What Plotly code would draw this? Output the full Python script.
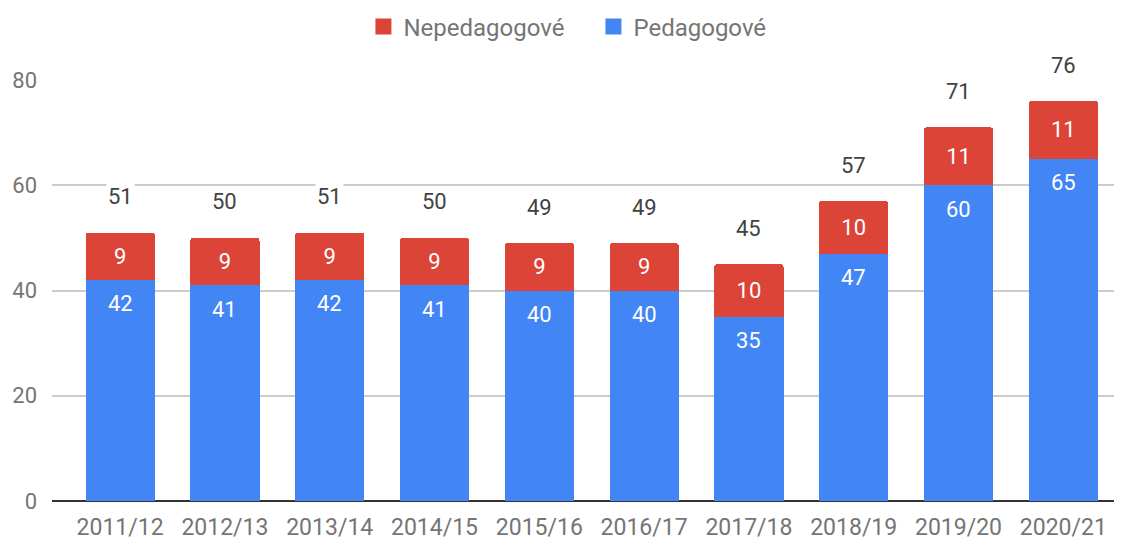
import plotly.graph_objects as go

years = ["2011/12", "2012/13", "2013/14", "2014/15", "2015/16",
         "2016/17", "2017/18", "2018/19", "2019/20", "2020/21"]
pedagogove = [42, 41, 42, 41, 40, 40, 35, 47, 60, 65]
nepedagogove = [9, 9, 9, 9, 9, 9, 10, 10, 11, 11]
totals = [p + n for p, n in zip(pedagogove, nepedagogove)]

font = "Roboto, Arial, sans-serif"
blue = "#4285F4"
red = "#DB4437"

fig = go.Figure()

fig.add_trace(go.Bar(
    x=years,
    y=pedagogove,
    name="Pedagogové",
    showlegend=False,
    marker=dict(color=blue, line=dict(width=0)),
))

fig.add_trace(go.Bar(
    x=years,
    y=nepedagogove,
    name="Nepedagogové",
    showlegend=False,
    marker=dict(color=red, line=dict(width=0)),
    text=nepedagogove,
    textposition="inside",
    insidetextanchor="middle",
    textangle=0,
    textfont=dict(color="white", size=22, family=font)
))

# legend entries with bigger square swatches
for name, col in [("Nepedagogové", red), ("Pedagogové", blue)]:
    fig.add_trace(go.Scatter(
        x=[None], y=[None], mode="markers", name=name,
        marker=dict(symbol="square", size=22, color=col)
    ))

# labels inside the blue segments, just under their tops
for yr, p in zip(years, pedagogove):
    fig.add_annotation(
        x=yr, y=p, text=str(p), showarrow=False, yshift=-24,
        font=dict(color="white", size=22, family=font)
    )

# totals above the stacks
for yr, t in zip(years, totals):
    fig.add_annotation(
        x=yr, y=t, text=str(t), showarrow=False, yshift=36,
        bgcolor="white",
        font=dict(color="#424242", size=22, family=font)
    )

fig.update_layout(
    barmode="stack",
    bargap=0.34,
    barcornerradius=3,
    width=1122,
    height=539,
    margin=dict(l=44, r=8, t=72, b=46, autoexpand=False),
    plot_bgcolor="white",
    paper_bgcolor="white",
    font=dict(family=font, size=22, color="#757575"),
    legend=dict(
        orientation="h",
        x=0.506,
        xanchor="center",
        y=0.965,
        yanchor="middle",
        yref="container",
        traceorder="normal",
        entrywidth=185,
        itemsizing="trace",
        font=dict(size=24, color="#757575")
    ),
    xaxis=dict(
        range=[-0.65, 9.56],
        showgrid=False,
        ticks="",
        showline=False,
        automargin=False,
        ticklabelstandoff=10,
        tickfont=dict(size=23, color="#757575")
    ),
    yaxis=dict(
        range=[0, 80],
        tickvals=[0, 20, 40, 60, 80],
        showgrid=True,
        gridcolor="#CCCCCC",
        gridwidth=2,
        zeroline=True,
        zerolinecolor="#333333",
        zerolinewidth=2,
        showline=False,
        ticks="",
        automargin=False,
        ticklabelstandoff=14,
        tickfont=dict(size=22, color="#757575")
    )
)

fig.write_html("out.html")
